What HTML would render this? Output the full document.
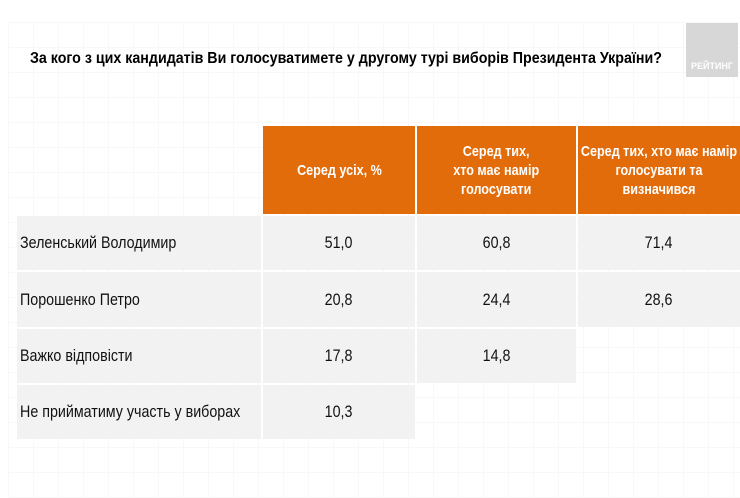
<!DOCTYPE html>
<html><head><meta charset="utf-8">
<style>
html,body{margin:0;padding:0;}
body{width:740px;height:498px;position:relative;overflow:hidden;background:#fff;font-family:"Liberation Sans",Arial,sans-serif;}
.grid{position:absolute;left:8px;top:22px;width:732px;height:476px;background-image:linear-gradient(#f8f8f8 1px,transparent 1px),linear-gradient(90deg,#f8f8f8 1px,transparent 1px);background-size:25px 25px;}
.c{position:absolute;display:flex;align-items:center;justify-content:center;text-align:center;}
.h{background:#E36C0A;color:#fff;font-weight:bold;font-size:15px;line-height:19px;}
.g{background:#F2F2F2;color:#111;font-size:17px;}
.t{display:inline-block;transform:scaleX(0.84);white-space:nowrap;}
.l{justify-content:flex-start;padding-left:3px;box-sizing:border-box;}
.l .t{transform-origin:left center;}
.title{position:absolute;left:30px;top:50px;font-size:16px;font-weight:bold;color:#000;white-space:nowrap;transform:scaleX(0.89);transform-origin:left center;}
.logo{position:absolute;left:686px;top:23px;width:52px;height:54px;background:#d7d7d7;}
.logo span{position:absolute;left:0;right:0;bottom:6px;text-align:center;color:#fff;font-weight:bold;font-size:9px;}
</style></head><body>
<div class="grid"></div>
<div class="title">За кого з цих кандидатів Ви голосуватимете у другому турі виборів Президента України?</div>
<div class="logo"><span>РЕЙТИНГ</span></div>

<div class="c h" style="left:263px;top:126px;width:152px;height:88px;"><span class="t">Серед усіх, %</span></div>
<div class="c h" style="left:417px;top:126px;width:159px;height:88px;"><span class="t">Серед тих,<br>хто має намір<br>голосувати</span></div>
<div class="c h" style="left:578px;top:126px;width:162px;height:88px;"><span class="t">Серед тих, хто має намір<br>голосувати та<br>визначився</span></div>

<div class="c g l" style="left:17px;top:216px;width:244px;height:54px;"><span class="t">Зеленський Володимир</span></div>
<div class="c g" style="left:263px;top:216px;width:152px;height:54px;"><span class="t">51,0</span></div>
<div class="c g" style="left:417px;top:216px;width:159px;height:54px;"><span class="t">60,8</span></div>
<div class="c g" style="left:578px;top:216px;width:162px;height:54px;"><span class="t">71,4</span></div>

<div class="c g l" style="left:17px;top:272px;width:244px;height:55px;"><span class="t">Порошенко Петро</span></div>
<div class="c g" style="left:263px;top:272px;width:152px;height:55px;"><span class="t">20,8</span></div>
<div class="c g" style="left:417px;top:272px;width:159px;height:55px;"><span class="t">24,4</span></div>
<div class="c g" style="left:578px;top:272px;width:162px;height:55px;"><span class="t">28,6</span></div>

<div class="c g l" style="left:17px;top:329px;width:244px;height:54px;"><span class="t">Важко відповісти</span></div>
<div class="c g" style="left:263px;top:329px;width:152px;height:54px;"><span class="t">17,8</span></div>
<div class="c g" style="left:417px;top:329px;width:159px;height:54px;"><span class="t">14,8</span></div>

<div class="c g l" style="left:17px;top:385px;width:244px;height:54px;"><span class="t">Не прийматиму участь у виборах</span></div>
<div class="c g" style="left:263px;top:385px;width:152px;height:54px;"><span class="t">10,3</span></div>
</body></html>
